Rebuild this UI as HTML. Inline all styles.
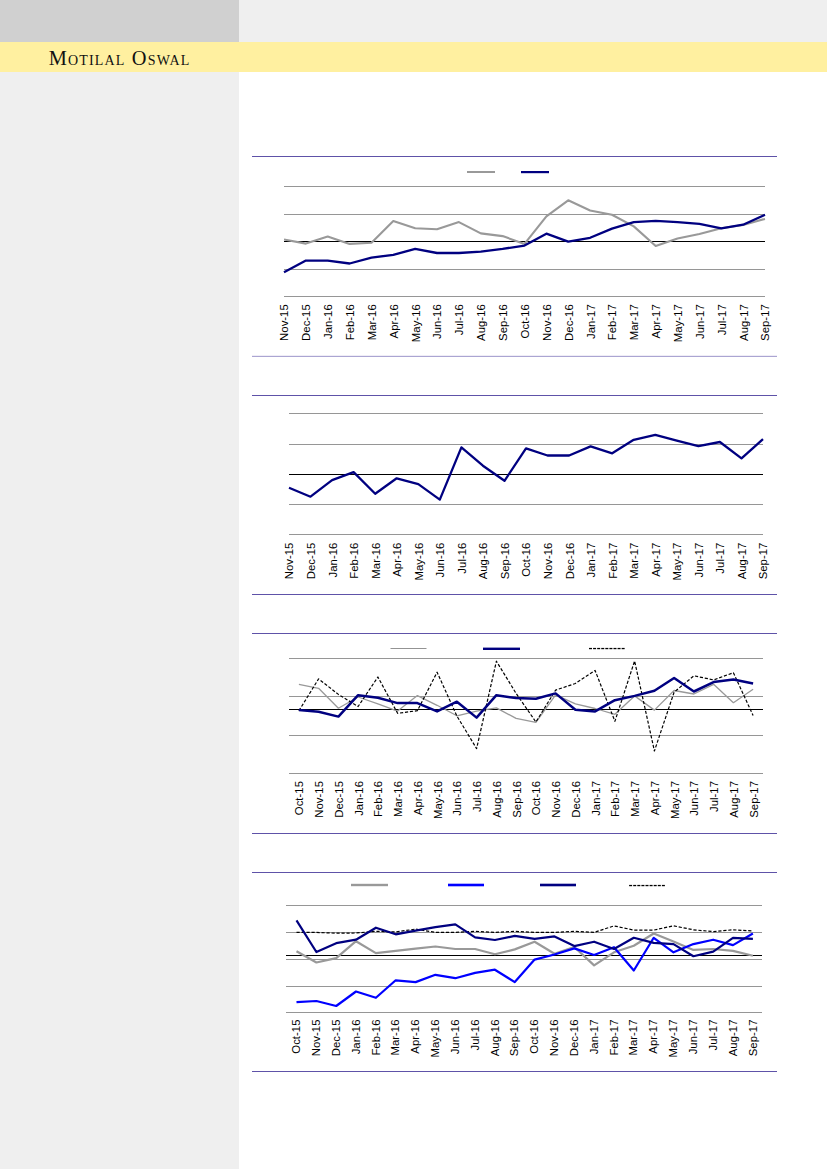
<!DOCTYPE html>
<html><head><meta charset="utf-8"><title>Motilal Oswal</title>
<style>
html,body{margin:0;padding:0;}
body{width:827px;height:1169px;overflow:hidden;position:relative;background:#fff;font-family:"Liberation Sans",sans-serif;}
.b{position:absolute;}
#tl{left:0;top:0;width:239px;height:42px;background:#d0d0d0;}
#tr{left:239px;top:0;width:588px;height:42px;background:#efefef;}
#yl{left:0;top:42px;width:827px;height:30px;background:#fff0a0;}
#lc{left:0;top:72px;width:239px;height:1097px;background:#efefef;}
#logo{left:48.7px;top:45.2px;font-family:"Liberation Serif",serif;font-size:20.4px;line-height:26px;font-variant:small-caps;letter-spacing:1.17px;color:#111;white-space:nowrap;}
svg{position:absolute;left:0;top:0;}
.lbl text{font-family:"Liberation Sans",sans-serif;font-size:11.4px;fill:#000;}
</style></head>
<body>
<div class="b" id="tl"></div>
<div class="b" id="tr"></div>
<div class="b" id="yl"></div>
<div class="b" id="lc"></div>
<div class="b" id="logo">Motilal Oswal</div>
<svg width="827" height="1169" viewBox="0 0 827 1169" shape-rendering="auto">
<rect x="252" y="156" width="525" height="1" fill="#5e52a8"/>
<rect x="252" y="356" width="525" height="1" fill="#5e52a8" fill-opacity="0.52"/>
<rect x="252" y="355" width="525" height="1" fill="#5e52a8" fill-opacity="0.1"/>
<rect x="284" y="186" width="481.0" height="1" fill="#969696"/>
<rect x="284" y="214" width="481.0" height="1" fill="#969696"/>
<rect x="284" y="269" width="481.0" height="1" fill="#969696"/>
<rect x="284" y="296" width="481.0" height="1" fill="#969696"/>
<rect x="284" y="241" width="481.0" height="1" fill="#000"/>
<rect x="467" y="171" width="28" height="2" fill="#999"/>
<rect x="521" y="171" width="28" height="2.2" fill="#000080"/>
<polyline points="284.0,239.5 305.9,243.6 327.7,236.6 349.6,243.9 371.5,242.7 393.3,221.1 415.2,228.3 437.0,229.3 458.9,222.1 480.8,233.4 502.6,236.1 524.5,243.9 546.4,216.3 568.2,200.3 590.1,210.5 612.0,214.8 633.8,226.4 655.7,246.0 677.5,238.5 699.4,234.0 721.3,228.3 743.1,225.0 765.0,218.9" fill="none" stroke="#999999" stroke-width="2.1" stroke-linejoin="round" />
<polyline points="284.0,272.2 305.9,260.6 327.7,260.6 349.6,263.5 371.5,257.6 393.3,254.8 415.2,248.9 437.0,253.0 458.9,253.0 480.8,251.6 502.6,248.9 524.5,245.6 546.4,233.7 568.2,241.7 590.1,237.8 612.0,228.6 633.8,222.1 655.7,220.9 677.5,222.1 699.4,223.9 721.3,228.3 743.1,224.7 765.0,214.8" fill="none" stroke="#000080" stroke-width="2.3" stroke-linejoin="round" />
<g class="lbl"><text transform="translate(288.4,304.2) rotate(-90)" text-anchor="end">Nov-15</text>
<text transform="translate(310.3,304.2) rotate(-90)" text-anchor="end">Dec-15</text>
<text transform="translate(332.1,304.2) rotate(-90)" text-anchor="end">Jan-16</text>
<text transform="translate(354.0,304.2) rotate(-90)" text-anchor="end">Feb-16</text>
<text transform="translate(375.9,304.2) rotate(-90)" text-anchor="end">Mar-16</text>
<text transform="translate(397.7,304.2) rotate(-90)" text-anchor="end">Apr-16</text>
<text transform="translate(419.6,304.2) rotate(-90)" text-anchor="end">May-16</text>
<text transform="translate(441.4,304.2) rotate(-90)" text-anchor="end">Jun-16</text>
<text transform="translate(463.3,304.2) rotate(-90)" text-anchor="end">Jul-16</text>
<text transform="translate(485.2,304.2) rotate(-90)" text-anchor="end">Aug-16</text>
<text transform="translate(507.0,304.2) rotate(-90)" text-anchor="end">Sep-16</text>
<text transform="translate(528.9,304.2) rotate(-90)" text-anchor="end">Oct-16</text>
<text transform="translate(550.8,304.2) rotate(-90)" text-anchor="end">Nov-16</text>
<text transform="translate(572.6,304.2) rotate(-90)" text-anchor="end">Dec-16</text>
<text transform="translate(594.5,304.2) rotate(-90)" text-anchor="end">Jan-17</text>
<text transform="translate(616.4,304.2) rotate(-90)" text-anchor="end">Feb-17</text>
<text transform="translate(638.2,304.2) rotate(-90)" text-anchor="end">Mar-17</text>
<text transform="translate(660.1,304.2) rotate(-90)" text-anchor="end">Apr-17</text>
<text transform="translate(681.9,304.2) rotate(-90)" text-anchor="end">May-17</text>
<text transform="translate(703.8,304.2) rotate(-90)" text-anchor="end">Jun-17</text>
<text transform="translate(725.7,304.2) rotate(-90)" text-anchor="end">Jul-17</text>
<text transform="translate(747.5,304.2) rotate(-90)" text-anchor="end">Aug-17</text>
<text transform="translate(769.4,304.2) rotate(-90)" text-anchor="end">Sep-17</text></g>
<rect x="252" y="395" width="525" height="1" fill="#5e52a8"/>
<rect x="252" y="594" width="525" height="1" fill="#5e52a8"/>
<rect x="289" y="413" width="474.0" height="1" fill="#969696"/>
<rect x="289" y="444" width="474.0" height="1" fill="#969696"/>
<rect x="289" y="504" width="474.0" height="1" fill="#969696"/>
<rect x="289" y="534" width="474.0" height="1" fill="#969696"/>
<rect x="289" y="474" width="474.0" height="1" fill="#000"/>
<polyline points="289.0,487.7 310.5,496.7 332.1,480.2 353.6,472.1 375.2,493.8 396.7,478.3 418.3,484.1 439.8,499.6 461.4,447.4 482.9,465.7 504.5,480.8 526.0,448.3 547.5,455.5 569.1,455.5 590.6,446.4 612.2,453.3 633.7,439.8 655.3,434.8 676.8,440.6 698.4,446.1 719.9,442.0 741.5,458.4 763.0,439.1" fill="none" stroke="#000080" stroke-width="2.3" stroke-linejoin="round" />
<g class="lbl"><text transform="translate(293.4,542.6) rotate(-90)" text-anchor="end">Nov-15</text>
<text transform="translate(314.9,542.6) rotate(-90)" text-anchor="end">Dec-15</text>
<text transform="translate(336.5,542.6) rotate(-90)" text-anchor="end">Jan-16</text>
<text transform="translate(358.0,542.6) rotate(-90)" text-anchor="end">Feb-16</text>
<text transform="translate(379.6,542.6) rotate(-90)" text-anchor="end">Mar-16</text>
<text transform="translate(401.1,542.6) rotate(-90)" text-anchor="end">Apr-16</text>
<text transform="translate(422.7,542.6) rotate(-90)" text-anchor="end">May-16</text>
<text transform="translate(444.2,542.6) rotate(-90)" text-anchor="end">Jun-16</text>
<text transform="translate(465.8,542.6) rotate(-90)" text-anchor="end">Jul-16</text>
<text transform="translate(487.3,542.6) rotate(-90)" text-anchor="end">Aug-16</text>
<text transform="translate(508.9,542.6) rotate(-90)" text-anchor="end">Sep-16</text>
<text transform="translate(530.4,542.6) rotate(-90)" text-anchor="end">Oct-16</text>
<text transform="translate(551.9,542.6) rotate(-90)" text-anchor="end">Nov-16</text>
<text transform="translate(573.5,542.6) rotate(-90)" text-anchor="end">Dec-16</text>
<text transform="translate(595.0,542.6) rotate(-90)" text-anchor="end">Jan-17</text>
<text transform="translate(616.6,542.6) rotate(-90)" text-anchor="end">Feb-17</text>
<text transform="translate(638.1,542.6) rotate(-90)" text-anchor="end">Mar-17</text>
<text transform="translate(659.7,542.6) rotate(-90)" text-anchor="end">Apr-17</text>
<text transform="translate(681.2,542.6) rotate(-90)" text-anchor="end">May-17</text>
<text transform="translate(702.8,542.6) rotate(-90)" text-anchor="end">Jun-17</text>
<text transform="translate(724.3,542.6) rotate(-90)" text-anchor="end">Jul-17</text>
<text transform="translate(745.9,542.6) rotate(-90)" text-anchor="end">Aug-17</text>
<text transform="translate(767.4,542.6) rotate(-90)" text-anchor="end">Sep-17</text></g>
<rect x="252" y="633" width="525" height="1" fill="#5e52a8"/>
<rect x="252" y="833" width="525" height="1" fill="#5e52a8"/>
<rect x="289" y="658" width="474.0" height="1" fill="#969696"/>
<rect x="289" y="696" width="474.0" height="1" fill="#969696"/>
<rect x="289" y="735" width="474.0" height="1" fill="#969696"/>
<rect x="289" y="773" width="474.0" height="1" fill="#969696"/>
<rect x="289" y="709" width="474.0" height="1" fill="#000"/>
<rect x="390.5" y="648" width="36" height="1" fill="#939393"/>
<rect x="483" y="647.6" width="37" height="2.4" fill="#000080"/>
<rect x="589.00" y="647.9" width="3.0" height="1.3" fill="#000"/><rect x="593.08" y="647.9" width="3.0" height="1.3" fill="#000"/><rect x="597.16" y="647.9" width="3.0" height="1.3" fill="#000"/><rect x="601.24" y="647.9" width="3.0" height="1.3" fill="#000"/><rect x="605.32" y="647.9" width="3.0" height="1.3" fill="#000"/><rect x="609.40" y="647.9" width="3.0" height="1.3" fill="#000"/><rect x="613.48" y="647.9" width="3.0" height="1.3" fill="#000"/><rect x="617.56" y="647.9" width="3.0" height="1.3" fill="#000"/><rect x="621.64" y="647.9" width="3.0" height="1.3" fill="#000"/>
<polyline points="298.9,684.3 318.6,688.3 338.4,708.2 358.1,697.0 377.9,703.9 397.6,711.1 417.4,695.6 437.1,705.3 456.9,715.8 476.6,711.1 496.4,707.9 516.1,718.4 535.9,722.4 555.6,694.9 575.4,703.9 595.1,708.5 614.9,714.3 634.6,695.9 654.4,710.1 674.1,690.5 693.9,694.0 713.6,684.3 733.4,702.7 753.1,689.3" fill="none" stroke="#999999" stroke-width="1.3" stroke-linejoin="round" />
<polyline points="298.9,710.8 318.6,678.9 338.4,694.4 358.1,706.5 377.9,677.0 397.6,713.3 417.4,710.7 437.1,672.2 456.9,716.0 476.6,748.6 496.4,661.2 516.1,693.4 535.9,722.0 555.6,690.1 575.4,683.5 595.1,670.5 614.9,721.3 634.6,661.0 654.4,751.0 674.1,692.2 693.9,675.8 713.6,679.9 733.4,672.7 753.1,715.5" fill="none" stroke="#000000" stroke-width="1.2" stroke-linejoin="round" stroke-dasharray="3.2,1.8"/>
<polyline points="298.9,710.1 318.6,711.8 338.4,716.6 358.1,695.2 377.9,697.8 397.6,703.1 417.4,703.1 437.1,711.4 456.9,701.7 476.6,717.6 496.4,695.2 516.1,698.1 535.9,698.8 555.6,693.4 575.4,709.7 595.1,711.4 614.9,700.2 634.6,695.9 654.4,690.8 674.1,678.0 693.9,691.5 713.6,682.1 733.4,679.5 753.1,683.5" fill="none" stroke="#000080" stroke-width="2.5" stroke-linejoin="round" />
<g class="lbl"><text transform="translate(303.3,781.0) rotate(-90)" text-anchor="end">Oct-15</text>
<text transform="translate(323.0,781.0) rotate(-90)" text-anchor="end">Nov-15</text>
<text transform="translate(342.8,781.0) rotate(-90)" text-anchor="end">Dec-15</text>
<text transform="translate(362.5,781.0) rotate(-90)" text-anchor="end">Jan-16</text>
<text transform="translate(382.3,781.0) rotate(-90)" text-anchor="end">Feb-16</text>
<text transform="translate(402.0,781.0) rotate(-90)" text-anchor="end">Mar-16</text>
<text transform="translate(421.8,781.0) rotate(-90)" text-anchor="end">Apr-16</text>
<text transform="translate(441.5,781.0) rotate(-90)" text-anchor="end">May-16</text>
<text transform="translate(461.3,781.0) rotate(-90)" text-anchor="end">Jun-16</text>
<text transform="translate(481.0,781.0) rotate(-90)" text-anchor="end">Jul-16</text>
<text transform="translate(500.8,781.0) rotate(-90)" text-anchor="end">Aug-16</text>
<text transform="translate(520.5,781.0) rotate(-90)" text-anchor="end">Sep-16</text>
<text transform="translate(540.3,781.0) rotate(-90)" text-anchor="end">Oct-16</text>
<text transform="translate(560.0,781.0) rotate(-90)" text-anchor="end">Nov-16</text>
<text transform="translate(579.8,781.0) rotate(-90)" text-anchor="end">Dec-16</text>
<text transform="translate(599.5,781.0) rotate(-90)" text-anchor="end">Jan-17</text>
<text transform="translate(619.3,781.0) rotate(-90)" text-anchor="end">Feb-17</text>
<text transform="translate(639.0,781.0) rotate(-90)" text-anchor="end">Mar-17</text>
<text transform="translate(658.8,781.0) rotate(-90)" text-anchor="end">Apr-17</text>
<text transform="translate(678.5,781.0) rotate(-90)" text-anchor="end">May-17</text>
<text transform="translate(698.3,781.0) rotate(-90)" text-anchor="end">Jun-17</text>
<text transform="translate(718.0,781.0) rotate(-90)" text-anchor="end">Jul-17</text>
<text transform="translate(737.8,781.0) rotate(-90)" text-anchor="end">Aug-17</text>
<text transform="translate(757.5,781.0) rotate(-90)" text-anchor="end">Sep-17</text></g>
<rect x="252" y="872" width="525" height="1" fill="#5e52a8"/>
<rect x="252" y="1071" width="525" height="1" fill="#5e52a8"/>
<rect x="286" y="905" width="476.0" height="1" fill="#969696"/>
<rect x="286" y="932" width="476.0" height="1" fill="#969696"/>
<rect x="286" y="959" width="476.0" height="1" fill="#969696"/>
<rect x="286" y="986" width="476.0" height="1" fill="#969696"/>
<rect x="286" y="1012" width="476.0" height="1" fill="#969696"/>
<rect x="286" y="955" width="476.0" height="1" fill="#000"/>
<rect x="351" y="883.8" width="37" height="2.4" fill="#999"/>
<rect x="448" y="883.7" width="36" height="2.6" fill="#0000ff"/>
<rect x="540" y="883.7" width="36" height="2.6" fill="#000080"/>
<rect x="629.10" y="884.9" width="3.0" height="1.3" fill="#000"/><rect x="633.20" y="884.9" width="3.0" height="1.3" fill="#000"/><rect x="637.30" y="884.9" width="3.0" height="1.3" fill="#000"/><rect x="641.40" y="884.9" width="3.0" height="1.3" fill="#000"/><rect x="645.50" y="884.9" width="3.0" height="1.3" fill="#000"/><rect x="649.60" y="884.9" width="3.0" height="1.3" fill="#000"/><rect x="653.70" y="884.9" width="3.0" height="1.3" fill="#000"/><rect x="657.80" y="884.9" width="3.0" height="1.3" fill="#000"/><rect x="661.90" y="884.9" width="3.0" height="1.3" fill="#000"/>
<polyline points="296.5,932.4 316.4,932.4 336.2,933.2 356.0,933.0 375.9,931.3 395.7,932.0 415.6,929.1 435.4,932.4 455.3,932.4 475.1,931.3 494.9,932.4 514.8,931.3 534.6,932.4 554.5,932.4 574.3,931.3 594.1,932.4 614.0,925.9 633.8,930.1 653.7,930.1 673.5,925.8 693.4,929.8 713.2,931.6 733.0,929.8 752.9,931.0" fill="none" stroke="#000000" stroke-width="1.2" stroke-linejoin="round" stroke-dasharray="3.2,1.8"/>
<polyline points="296.5,951.3 316.4,962.5 336.2,958.1 356.0,941.2 375.9,953.1 395.7,950.9 415.6,948.7 435.4,946.5 455.3,949.0 475.1,949.0 494.9,954.2 514.8,949.4 534.6,941.7 554.5,953.8 574.3,947.0 594.1,965.4 614.0,952.3 633.8,945.8 653.7,933.5 673.5,941.4 693.4,949.9 713.2,949.0 733.0,950.9 752.9,955.7" fill="none" stroke="#999999" stroke-width="2.2" stroke-linejoin="round" />
<polyline points="296.5,1002.1 316.4,1001.0 336.2,1006.0 356.0,991.5 375.9,997.8 395.7,980.3 415.6,982.1 435.4,974.8 455.3,978.2 475.1,972.9 494.9,969.7 514.8,982.1 534.6,959.6 554.5,954.5 574.3,948.4 594.1,955.0 614.0,947.2 633.8,970.5 653.7,937.8 673.5,952.3 693.4,944.1 713.2,939.7 733.0,945.1 752.9,933.5" fill="none" stroke="#0000ff" stroke-width="2.2" stroke-linejoin="round" />
<polyline points="296.5,920.4 316.4,952.0 336.2,943.2 356.0,939.7 375.9,927.7 395.7,934.3 415.6,930.6 435.4,927.2 455.3,924.3 475.1,937.4 494.9,940.0 514.8,935.9 534.6,938.8 554.5,936.4 574.3,946.1 594.1,941.7 614.0,949.0 633.8,937.8 653.7,942.9 673.5,944.1 693.4,956.2 713.2,951.6 733.0,937.8 752.9,938.8" fill="none" stroke="#000080" stroke-width="2.2" stroke-linejoin="round" />
<g class="lbl"><text transform="translate(300.1,1019.5) rotate(-90)" text-anchor="end">Oct-15</text>
<text transform="translate(320.0,1019.5) rotate(-90)" text-anchor="end">Nov-15</text>
<text transform="translate(339.8,1019.5) rotate(-90)" text-anchor="end">Dec-15</text>
<text transform="translate(359.6,1019.5) rotate(-90)" text-anchor="end">Jan-16</text>
<text transform="translate(379.5,1019.5) rotate(-90)" text-anchor="end">Feb-16</text>
<text transform="translate(399.3,1019.5) rotate(-90)" text-anchor="end">Mar-16</text>
<text transform="translate(419.2,1019.5) rotate(-90)" text-anchor="end">Apr-16</text>
<text transform="translate(439.0,1019.5) rotate(-90)" text-anchor="end">May-16</text>
<text transform="translate(458.9,1019.5) rotate(-90)" text-anchor="end">Jun-16</text>
<text transform="translate(478.7,1019.5) rotate(-90)" text-anchor="end">Jul-16</text>
<text transform="translate(498.5,1019.5) rotate(-90)" text-anchor="end">Aug-16</text>
<text transform="translate(518.4,1019.5) rotate(-90)" text-anchor="end">Sep-16</text>
<text transform="translate(538.2,1019.5) rotate(-90)" text-anchor="end">Oct-16</text>
<text transform="translate(558.1,1019.5) rotate(-90)" text-anchor="end">Nov-16</text>
<text transform="translate(577.9,1019.5) rotate(-90)" text-anchor="end">Dec-16</text>
<text transform="translate(597.7,1019.5) rotate(-90)" text-anchor="end">Jan-17</text>
<text transform="translate(617.6,1019.5) rotate(-90)" text-anchor="end">Feb-17</text>
<text transform="translate(637.4,1019.5) rotate(-90)" text-anchor="end">Mar-17</text>
<text transform="translate(657.3,1019.5) rotate(-90)" text-anchor="end">Apr-17</text>
<text transform="translate(677.1,1019.5) rotate(-90)" text-anchor="end">May-17</text>
<text transform="translate(697.0,1019.5) rotate(-90)" text-anchor="end">Jun-17</text>
<text transform="translate(716.8,1019.5) rotate(-90)" text-anchor="end">Jul-17</text>
<text transform="translate(736.6,1019.5) rotate(-90)" text-anchor="end">Aug-17</text>
<text transform="translate(756.5,1019.5) rotate(-90)" text-anchor="end">Sep-17</text></g>
</svg>
</body></html>
